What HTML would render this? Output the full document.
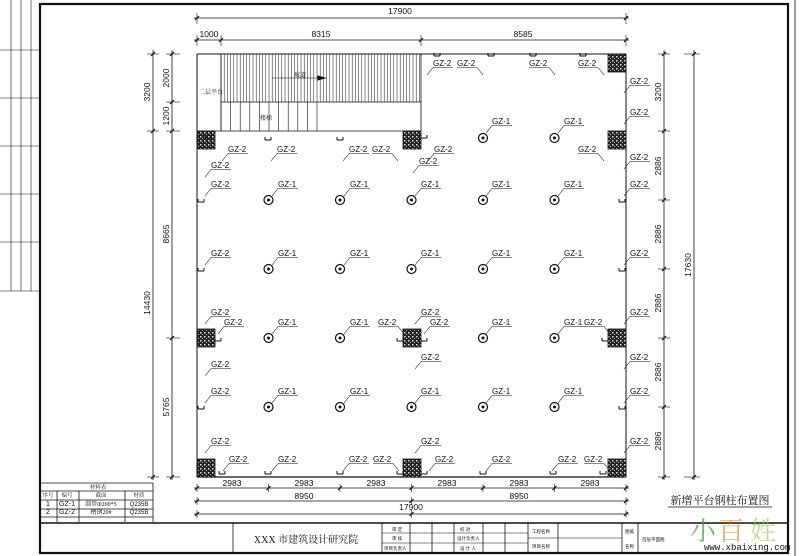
<!DOCTYPE html>
<html><head><meta charset="utf-8"><style>
html,body{margin:0;padding:0;background:#fff;}
svg{display:block;}
text{font-family:"Liberation Sans","Noto Sans CJK SC",sans-serif;fill:#111;}
.lb{font-size:8px;}
.d{font-size:8.5px;}
.cj{font-family:"Liberation Serif","Noto Serif CJK SC","Noto Sans CJK SC",serif;}
</style></head><body>
<svg id="s" width="800" height="556" viewBox="0 0 800 556" xmlns="http://www.w3.org/2000/svg">
<defs>
<pattern id="hp" width="4" height="4" patternUnits="userSpaceOnUse">
<rect width="4" height="4" fill="#222"/><rect x="0" y="0" width="1.5" height="1.5" fill="#ddd"/><rect x="2" y="2" width="1" height="1" fill="#bbb"/>
</pattern>
</defs>
<g id="g" stroke="#111" stroke-width="1" fill="none"></g>

<text class="d" x="400" y="14" text-anchor="middle">17900</text>
<text class="d" x="209" y="37" text-anchor="middle">1000</text>
<text class="d" x="321" y="37" text-anchor="middle">8315</text>
<text class="d" x="523" y="37" text-anchor="middle">8585</text>
<text class="d" x="232" y="486" text-anchor="middle">2983</text>
<text class="d" x="304" y="486" text-anchor="middle">2983</text>
<text class="d" x="376" y="486" text-anchor="middle">2983</text>
<text class="d" x="447" y="486" text-anchor="middle">2983</text>
<text class="d" x="519" y="486" text-anchor="middle">2983</text>
<text class="d" x="590" y="486" text-anchor="middle">2983</text>
<text class="d" x="304" y="499" text-anchor="middle">8950</text>
<text class="d" x="519" y="499" text-anchor="middle">8950</text>
<text class="d" x="411" y="510" text-anchor="middle">17900</text>
<text class="d" transform="translate(150,92) rotate(-90)" text-anchor="middle">3200</text>
<text class="d" transform="translate(150,303) rotate(-90)" text-anchor="middle">14430</text>
<text class="d" transform="translate(169,78) rotate(-90)" text-anchor="middle">2000</text>
<text class="d" transform="translate(169,116) rotate(-90)" text-anchor="middle">1200</text>
<text class="d" transform="translate(169,234) rotate(-90)" text-anchor="middle">8665</text>
<text class="d" transform="translate(169,407) rotate(-90)" text-anchor="middle">5765</text>
<text class="d" transform="translate(661,92) rotate(-90)" text-anchor="middle">3200</text>
<text class="d" transform="translate(661,166) rotate(-90)" text-anchor="middle">2886</text>
<text class="d" transform="translate(661,234) rotate(-90)" text-anchor="middle">2886</text>
<text class="d" transform="translate(661,303) rotate(-90)" text-anchor="middle">2886</text>
<text class="d" transform="translate(661,372) rotate(-90)" text-anchor="middle">2886</text>
<text class="d" transform="translate(661,441) rotate(-90)" text-anchor="middle">2886</text>
<text class="d" transform="translate(691,265) rotate(-90)" text-anchor="middle">17630</text>

<text class="cj" x="199" y="94" font-size="6">二层平台</text>
<text class="cj" x="294" y="77" font-size="6">坡道</text>
<text class="cj" x="260" y="120" font-size="6">楼梯</text>

<g id="labels">
<text class="lb" x="433" y="66">GZ-2</text>
<text class="lb r" x="457" y="66">GZ-2</text>
<text class="lb r" x="529" y="66">GZ-2</text>
<text class="lb r" x="578" y="66">GZ-2</text>
<text class="lb" x="630" y="84">GZ-2</text>
<text class="lb" x="630" y="115">GZ-2</text>
<text class="lb r" x="578" y="152">GZ-2</text>
<text class="lb" x="630" y="160">GZ-2</text>
<text class="lb" x="228" y="152">GZ-2</text>
<text class="lb" x="211" y="168">GZ-2</text>
<text class="lb" x="277" y="152">GZ-2</text>
<text class="lb" x="349" y="152">GZ-2</text>
<text class="lb r" x="372" y="152">GZ-2</text>
<text class="lb" x="434" y="152">GZ-2</text>
<text class="lb" x="419" y="164">GZ-2</text>
<text class="lb" x="492" y="124">GZ-1</text>
<text class="lb" x="564" y="124">GZ-1</text>
<text class="lb" x="211" y="187">GZ-2</text>
<text class="lb" x="278" y="187">GZ-1</text>
<text class="lb" x="350" y="187">GZ-1</text>
<text class="lb" x="421" y="187">GZ-1</text>
<text class="lb" x="492" y="187">GZ-1</text>
<text class="lb" x="564" y="187">GZ-1</text>
<text class="lb" x="630" y="187">GZ-2</text>
<text class="lb" x="211" y="256">GZ-2</text>
<text class="lb" x="278" y="256">GZ-1</text>
<text class="lb" x="350" y="256">GZ-1</text>
<text class="lb" x="421" y="256">GZ-1</text>
<text class="lb" x="492" y="256">GZ-1</text>
<text class="lb" x="564" y="256">GZ-1</text>
<text class="lb" x="630" y="256">GZ-2</text>
<text class="lb" x="211" y="315">GZ-2</text>
<text class="lb" x="224" y="325">GZ-2</text>
<text class="lb" x="211" y="367">GZ-2</text>
<text class="lb" x="278" y="325">GZ-1</text>
<text class="lb" x="350" y="325">GZ-1</text>
<text class="lb r" x="378" y="325">GZ-2</text>
<text class="lb" x="421" y="315">GZ-2</text>
<text class="lb" x="430" y="325">GZ-2</text>
<text class="lb" x="421" y="360">GZ-2</text>
<text class="lb" x="492" y="325">GZ-1</text>
<text class="lb" x="564" y="325">GZ-1</text>
<text class="lb r" x="584" y="325">GZ-2</text>
<text class="lb" x="630" y="315">GZ-2</text>
<text class="lb" x="630" y="360">GZ-2</text>
<text class="lb" x="211" y="394">GZ-2</text>
<text class="lb" x="278" y="394">GZ-1</text>
<text class="lb" x="350" y="394">GZ-1</text>
<text class="lb" x="421" y="394">GZ-1</text>
<text class="lb" x="492" y="394">GZ-1</text>
<text class="lb" x="564" y="394">GZ-1</text>
<text class="lb" x="630" y="394">GZ-2</text>
<text class="lb" x="211" y="444">GZ-2</text>
<text class="lb" x="229" y="462">GZ-2</text>
<text class="lb" x="278" y="462">GZ-2</text>
<text class="lb" x="349" y="462">GZ-2</text>
<text class="lb r" x="373" y="462">GZ-2</text>
<text class="lb" x="421" y="444">GZ-2</text>
<text class="lb" x="435" y="462">GZ-2</text>
<text class="lb" x="492" y="462">GZ-2</text>
<text class="lb" x="558" y="462">GZ-2</text>
<text class="lb r" x="584" y="462">GZ-2</text>
<text class="lb" x="630" y="444">GZ-2</text>
</g>

<text class="cj" x="98" y="489" font-size="5.5" text-anchor="middle">材料表</text>
<text class="cj" x="48" y="497" font-size="5.5" text-anchor="middle">序号</text>
<text class="cj" x="67" y="497" font-size="5.5" text-anchor="middle">编号</text>
<text class="cj" x="101" y="497" font-size="5.5" text-anchor="middle">截面</text>
<text class="cj" x="139" y="497" font-size="5.5" text-anchor="middle">材质</text>
<text x="48" y="506" font-size="7" text-anchor="middle">1</text>
<text x="67" y="506" font-size="7" text-anchor="middle">GZ-1</text>
<text class="cj" x="101" y="506" font-size="6" text-anchor="middle">圆管Φ200*5</text>
<text x="139" y="506" font-size="6" text-anchor="middle">Q235B</text>
<text x="48" y="514" font-size="7" text-anchor="middle">2</text>
<text x="67" y="514" font-size="7" text-anchor="middle">GZ-2</text>
<text class="cj" x="101" y="514" font-size="6" text-anchor="middle">槽钢20#</text>
<text x="139" y="514" font-size="6" text-anchor="middle">Q235B</text>

<text class="cj" x="720" y="504" font-size="11" text-anchor="middle">新增平台钢柱布置图</text>
<text class="cj" x="306" y="543" font-size="10" text-anchor="middle">XXX 市建筑设计研究院</text>
<g font-size="4.5" class="cj">
<text x="392" y="531">审 定</text><text x="392" y="540">审 核</text><text x="384" y="550">项目负责人</text>
<text x="460" y="531">校 对</text><text x="457" y="540">设计负责人</text><text x="460" y="550">设 计 人</text>
<text x="532" y="533">工程名称</text><text x="532" y="548">项目名称</text>
<text x="625" y="533">图纸</text><text x="625" y="548">名称</text>
<text x="642" y="541">首层平面图</text>
</g>
<text x="690" y="540" font-size="26" style="fill:#3a9a3a;opacity:.7" class="cj">小</text>
<text x="718" y="540" font-size="26" style="fill:#e07020;opacity:.6" class="cj">百</text>
<text x="750" y="540" font-size="26" style="fill:#9ac040;opacity:.6" class="cj">姓</text>
<text x="704" y="550" font-size="9" style="font-family:'Liberation Mono',monospace">www.xbaixing.com</text>
</svg>
<script>
(function(){
var g=document.getElementById('g'),NS='http://www.w3.org/2000/svg';
function el(t,a){var e=document.createElementNS(NS,t);for(var k in a)e.setAttribute(k,a[k]);g.appendChild(e);return e;}
function L(x1,y1,x2,y2,w){el('line',{x1:x1,y1:y1,x2:x2,y2:y2,'stroke-width':w||0.8});}
function tick(x,y){L(x-2,y+2,x+2,y-2,1.2);}
L(40,3,40,554,2.2);L(40,4,788,4,2.2);L(788,3,788,554,2.2);L(40,553,788,553,2.2);
L(795,0,795,556,0.8);
L(11,0,11,291,0.6);L(21,0,21,291,0.6);L(31,0,31,291,0.6);
[50,98,146,194,242,291].forEach(function(y){L(0,y,40,y,0.6);});
L(197,54,626,54,1);L(197,54,197,477,1);L(626,54,626,477,1);L(197,477,626,477,1.2);
L(221,54,221,131,0.8);L(421,54,421,131,0.8);L(197,131,421,131,0.8);L(221,102,421,102,0.8);
for(var x=221;x<=421;x+=3.2)L(x,54,x,102,0.5);
for(var x=221;x<=318;x+=9.6)L(x,102,x,131,0.6);
L(272,78,318,78,0.6);el('path',{d:'M318,76 L325,78 L318,80 Z',fill:'#111'});
L(194,18,629,18);
L(194,40,629,40);
[197,626].forEach(function(x){tick(x,18);L(x,13,x,24,0.6);});
[197,221,421,626].forEach(function(x){tick(x,40);L(x,35,x,46,0.6);});
L(194,488,629,488);L(194,501,629,501);L(194,514,629,514);
[197,268.5,340,411.5,483,554.5,626].forEach(function(x){tick(x,488);L(x,484,x,492,0.6);});
[197,411.5,626].forEach(function(x){tick(x,501);L(x,497,x,505,0.6);tick(x,514);L(x,510,x,518,0.6);});
L(153,50,153,480);L(172,50,172,480);
[54,131,477].forEach(function(y){tick(153,y);L(147,y,159,y,0.6);});
[54,102,131,338,477].forEach(function(y){tick(172,y);L(166,y,180,y,0.6);});
L(664,50,664,480);L(694,50,694,480);
[54,131,200,269,338,407,477].forEach(function(y){tick(664,y);L(658,y,670,y,0.6);});
[54,477].forEach(function(y){tick(694,y);L(684,y,700,y,0.6);});
[[608,54],[197,131],[403,131],[608,131],[197,329],[403,329],[608,329],[197,459],[403,459],[608,459]].forEach(function(p){
 el('rect',{x:p[0],y:p[1],width:18,height:18,fill:'url(#hp)',stroke:'#111','stroke-width':0.8});
});
var xs=[268.5,340,411.5,483,554.5];
function circ(x,y){el('circle',{cx:x,cy:y,r:4.5,'stroke-width':1.2});el('circle',{cx:x,cy:y,r:1,fill:'#111'});}
[483,554.5].forEach(function(x){circ(x,138);});
[200,269,407].forEach(function(y){xs.forEach(function(x){circ(x,y);});});
[268.5,340,483,554.5].forEach(function(x){circ(x,338);});
function br(x,y){L(x,y,x+6,y,1);L(x,y,x,y-3,1);L(x+6,y,x+6,y-3,1);}
[[434,56],[488,56],[530,56],[580,56],[205,138],[265,140],[337,140],[421,138],
 [198,202],[619,202],[198,271],[619,271],[198,409],[619,409],[215,341],[397,341],[421,341],[602,341],
 [219,474],[265,474],[337,474],[397,474],[421,474],[480,474],[550,474],[600,474]].forEach(function(p){br(p[0],p[1]);});
var ls=document.querySelectorAll('#labels text');
for(var i=0;i<ls.length;i++){var t=ls[i],x=+t.getAttribute('x'),y=+t.getAttribute('y');
 L(x,y+1.5,x+20,y+1.5,0.6);
 if(t.getAttribute('class').indexOf(' r')>0)L(x+20,y+1.5,x+26,y+9,0.6);else L(x,y+1.5,x-6,y+9,0.6);}
L(40,483,153,483);L(40,491,153,491);L(40,500,153,500);L(40,509,153,509);L(40,517,153,517);
L(153,483,153,522);L(57,491,57,522);L(79,491,79,522);L(125,491,125,522);
L(668,507,772,507,0.8);
L(40,523,788,523,1.6);
[233,382,410,432,454,483,505,528,558,622,638].forEach(function(x){L(x,523,x,553,0.8);});
L(382,533,528,533,0.5);L(382,543,528,543,0.5);L(528,538,622,538,0.5);
})();
</script>
</body></html>
